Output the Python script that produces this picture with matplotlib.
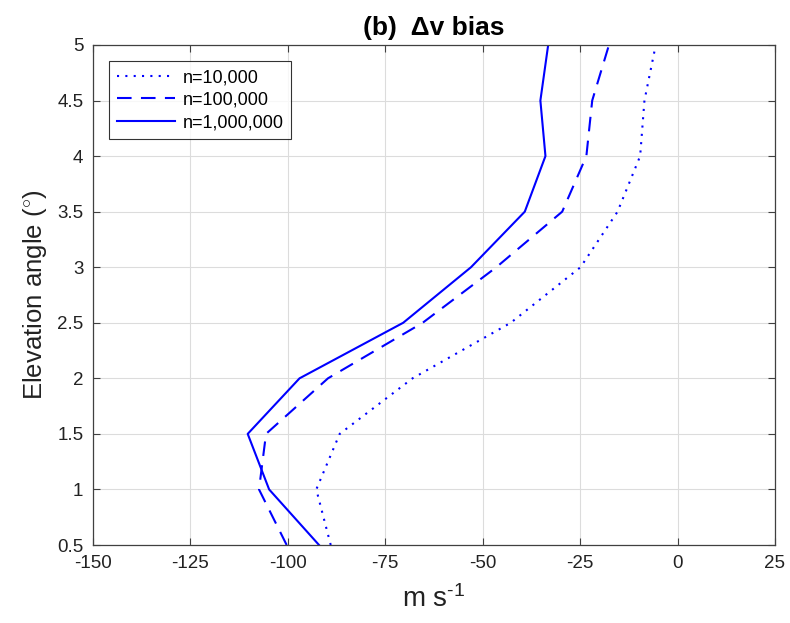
import matplotlib
matplotlib.use("Agg")
import matplotlib.pyplot as plt

plt.rcParams['font.family'] = ['Liberation Sans', 'DejaVu Sans']
plt.rcParams['axes.unicode_minus'] = False
plt.rcParams['mathtext.fontset'] = 'custom'
plt.rcParams['mathtext.rm'] = 'Liberation Sans'
plt.rcParams['mathtext.it'] = 'Liberation Sans'

elevation = [0.5, 1.0, 1.5, 2.0, 2.5, 3.0, 3.5, 4.0, 4.5, 5.0]
bias_n1e4 = [-89.0, -92.7, -86.7, -68.0, -42.8, -24.9, -15.4, -9.6, -8.5, -5.6]
bias_n1e5 = [-100.3, -107.4, -105.6, -89.7, -65.4, -46.5, -29.6, -23.4, -21.9, -17.6]
bias_n1e6 = [-92.0, -104.8, -110.3, -97.0, -70.4, -53.0, -39.2, -33.9, -35.2, -33.2]
labels = ['n=10,000', 'n=100,000', 'n=1,000,000']
xticks = [-150, -125, -100, -75, -50, -25, 0, 25]
yticks = [0.5, 1, 1.5, 2, 2.5, 3, 3.5, 4, 4.5, 5]

fig = plt.figure(figsize=(7.9, 6.23), dpi=100)
ax = fig.add_axes([0.1177, 0.1252, 0.8633, 0.8026])

ax.plot(bias_n1e4, elevation, color='blue', lw=1.5, linestyle=(0, (1, 3)), label=labels[0])
ax.plot(bias_n1e5, elevation, color='blue', lw=1.5, linestyle=(0, (7, 4.5)), label=labels[1])
ax.plot(bias_n1e6, elevation, color='blue', lw=1.5, linestyle='-', label=labels[2])

ax.set_xlim(-150, 25)
ax.set_ylim(0.5, 5)
ax.set_xticks(xticks)
ax.set_yticks(yticks)
ax.set_yticklabels([f'{t:g}' for t in yticks])
ax.grid(True, color='#dcdcdc', lw=0.8)
ax.set_axisbelow(True)
ax.tick_params(direction='in', top=True, right=True, labelsize=13.5, length=5,
               color='#404040', labelcolor='#222222', pad=7)
for s in ax.spines.values():
    s.set_color('#404040')
    s.set_linewidth(0.9)

ax.set_title('(b)  \u0394v bias', fontsize=19, fontweight='bold', pad=7)
ax.set_xlabel('$\\mathrm{m\\ s}^{\\text{-1}}$', fontsize=20, color='#222222', labelpad=10)
ax.set_ylabel('Elevation angle ($^{\\circ}$)', fontsize=18.5, color='#222222', labelpad=6)

leg = ax.legend(loc='upper left', fontsize=13, frameon=True, fancybox=False,
                edgecolor='black', handlelength=3.2, handletextpad=0.4,
                borderaxespad=0.9, borderpad=0.45, labelspacing=0.3,
                bbox_to_anchor=(0.0, 1.0))
leg.get_frame().set_linewidth(0.8)

fig.savefig('out.png', dpi=100)
